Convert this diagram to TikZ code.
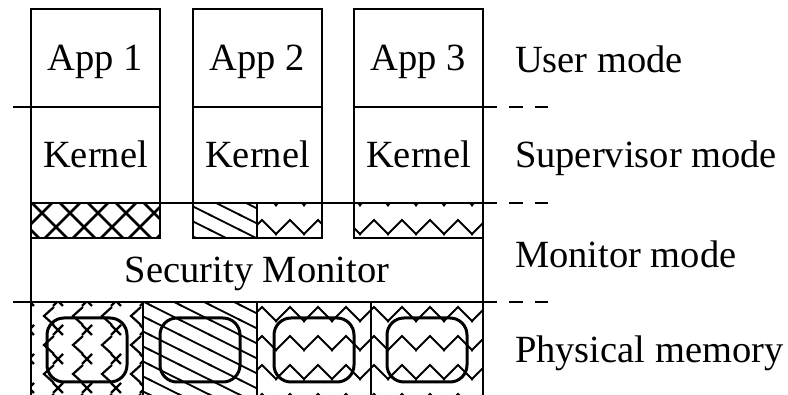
\documentclass[tikz,border=0pt]{standalone}
\usepackage{fontspec}
\setmainfont{Liberation Serif}
\usetikzlibrary{positioning, patterns}

% fill patterns for the protection domains
\pgfdeclarepatternformonly{crossgrid}{\pgfqpoint{-1pt}{-1pt}}{\pgfqpoint{29pt}{29pt}}{\pgfqpoint{28pt}{28pt}}{%
  \pgfsetlinewidth{2.6pt}
  \pgfpathmoveto{\pgfqpoint{-1pt}{-1pt}}\pgfpathlineto{\pgfqpoint{29pt}{29pt}}
  \pgfpathmoveto{\pgfqpoint{-1pt}{29pt}}\pgfpathlineto{\pgfqpoint{29pt}{-1pt}}
  \pgfusepath{stroke}}
\pgfdeclarepatternformonly{slantlines}{\pgfqpoint{-2pt}{-2pt}}{\pgfqpoint{32pt}{17pt}}{\pgfqpoint{30pt}{15pt}}{%
  \pgfsetlinewidth{1.8pt}
  \pgfpathmoveto{\pgfqpoint{-2pt}{16pt}}\pgfpathlineto{\pgfqpoint{32pt}{-1pt}}
  \pgfusepath{stroke}}
\pgfdeclarepatternformonly{sawtooth}{\pgfqpoint{-5pt}{14pt}}{\pgfqpoint{25pt}{31pt}}{\pgfqpoint{28pt}{29pt}}{%
  \pgfsetlinewidth{1.8pt}
  \pgfpathmoveto{\pgfqpoint{-5pt}{15pt}}\pgfpathlineto{\pgfqpoint{10pt}{30pt}}
  \pgfpathlineto{\pgfqpoint{25pt}{15pt}}
  \pgfusepath{stroke}}
\pgfdeclarepatternformonly{xchevrons}{\pgfqpoint{-6pt}{-1pt}}{\pgfqpoint{26pt}{31pt}}{\pgfqpoint{29pt}{29pt}}{%
  \pgfsetlinewidth{2.2pt}
  \pgfpathmoveto{\pgfqpoint{-5pt}{2pt}}\pgfpathlineto{\pgfqpoint{5pt}{12pt}}
  \pgfpathmoveto{\pgfqpoint{-5pt}{12pt}}\pgfpathlineto{\pgfqpoint{5pt}{2pt}}
  \pgfpathmoveto{\pgfqpoint{25pt}{30pt}}\pgfpathlineto{\pgfqpoint{15pt}{21pt}}
  \pgfpathlineto{\pgfqpoint{25pt}{12pt}}
  \pgfusepath{stroke}}

\begin{document}
\begin{tikzpicture}[
    x=1pt, y=-1pt,
    font=\fontsize{38.5}{46}\selectfont,
    every node/.style={outer sep=0pt},
    layer/.style={draw, line width=1.6pt, inner sep=0pt, minimum width=#1},
    appbox/.style={layer=129pt, minimum height=98pt, text height=26pt, text depth=-8pt},
    kernbox/.style={layer=129pt, minimum height=96pt, text height=26pt, text depth=0pt},
    hatchbox/.style={layer=#1, minimum height=35pt},
    membox/.style={layer=#1, minimum height=96pt},
    region/.style={draw, line width=3pt, rounded corners=17pt, minimum width=80pt, minimum height=64pt},
    sep/.style={line width=1.6pt, dash pattern=on 14pt off 12pt},
    modelabel/.style={anchor=base west, inner sep=0pt}
]
\useasboundingbox (0,0) rectangle (788,395);
\clip (0,0) rectangle (788,395);

% applications and their kernels
\node[appbox, anchor=north west] (app1) at (31,9) {App 1};
\node[appbox, anchor=north west] (app2) at (193,9) {App 2};
\node[appbox, anchor=north west] (app3) at (354,9) {App 3};
\node[kernbox, below=0pt of app1] (kern1) {Kernel};
\node[kernbox, below=0pt of app2] (kern2) {Kernel};
\node[kernbox, below=0pt of app3] (kern3) {Kernel};

% security monitor with the per-domain state on top
\node[layer=452pt, minimum height=99pt, anchor=north west] (monitor) at (31,203) {};
\node[anchor=base, inner sep=0pt] (smtext) at (257,283) {Security Monitor};
\node[hatchbox=129pt, pattern=crossgrid, below=0pt of kern1] (hatch1) {};
\node[hatchbox=64pt, pattern=slantlines, below right=0pt of kern2.south west] (hatch2a) {};
\node[hatchbox=65pt, pattern=sawtooth, right=0pt of hatch2a] (hatch2b) {};
\node[hatchbox=129pt, pattern=sawtooth, below=0pt of kern3] (hatch3) {};

% physical memory split into regions
\node[membox=112pt, pattern=xchevrons, anchor=north west] (mem1) at (31,302) {};
\node[membox=114pt, pattern=slantlines, right=0pt of mem1] (mem2) {};
\node[membox=114pt, pattern=sawtooth, right=0pt of mem2] (mem3) {};
\node[membox=112pt, pattern=sawtooth, right=0pt of mem3] (mem4) {};
\node[region] (reg1) at (mem1.center) {};
\node[region] (reg2) at (mem2.center) {};
\node[region] (reg3) at (mem3.center) {};
\node[region] (reg4) at (mem4.center) {};

% privilege level boundaries
\draw[line width=1.6pt] (app1.south west) -- ++(-18,0);
\draw[line width=1.6pt] (monitor.south west) -- ++(-18,0);
\draw[sep] (app3.south east) -- ++(65,0);
\draw[sep] (kern3.south east) -- ++(65,0);
\draw[sep] (monitor.south east) -- ++(65,0);

\node[modelabel] (user) at (515,73) {User mode};
\node[modelabel] (super) at (515,168) {Supervisor mode};
\node[modelabel] (monmode) at (515,268) {Monitor mode};
\node[modelabel] (phys) at (515,363) {Physical memory};
\end{tikzpicture}
\end{document}
